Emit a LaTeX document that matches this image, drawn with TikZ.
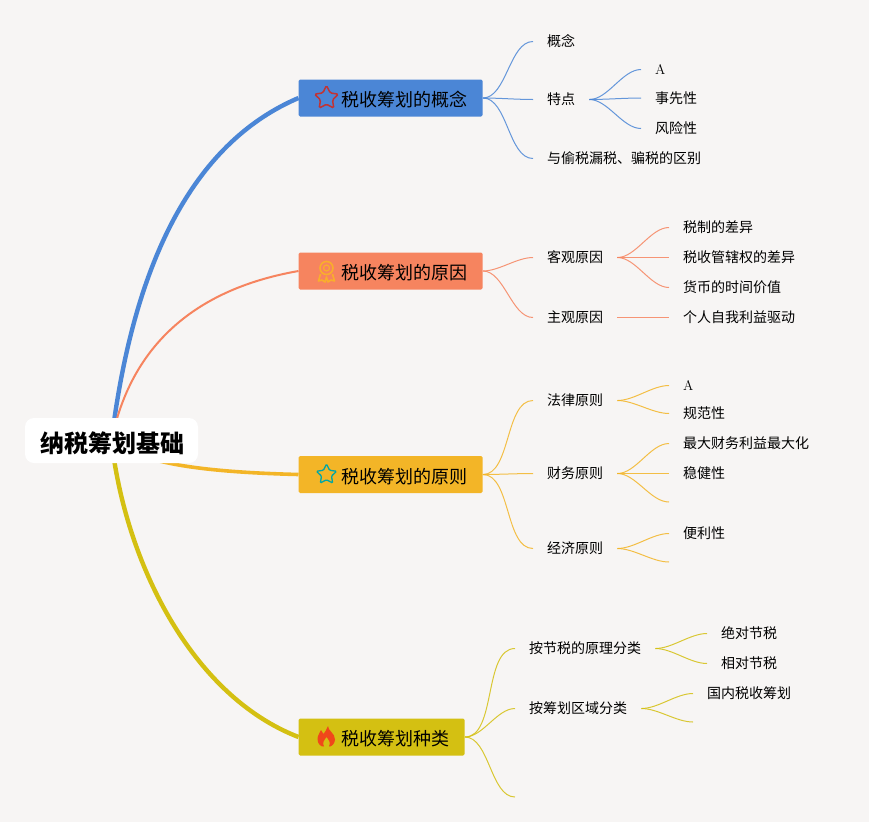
\documentclass[tikz,border=0pt]{standalone}
\usepackage{fontspec}
\newfontfamily\cjk{Noto Sans CJK SC}
\usetikzlibrary{shapes.geometric}
\definecolor{pagebg}{HTML}{F7F5F4}
\definecolor{cblue}{HTML}{4B86D6}
\definecolor{corange}{HTML}{F6845F}
\definecolor{cgold}{HTML}{F3B527}
\definecolor{cyellow}{HTML}{D4C012}
\definecolor{cmedal}{HTML}{F9AE2C}
\definecolor{cflame}{HTML}{F0481A}
\pgfdeclarelayer{bg}
\pgfdeclarelayer{lines}
\pgfsetlayers{bg,lines,main}
\tikzset{
    rootbox/.style={fill=white,rounded corners=9pt,minimum width=173pt,minimum height=45pt,inner sep=0pt,text height=24pt,text depth=0pt,font=\cjk\bfseries\fontsize{24}{24}\selectfont},
    topicbox/.style={rounded corners=1.5pt,minimum height=37pt,inner sep=0pt,anchor=west,text height=17pt,text depth=0pt,font=\cjk\fontsize{18}{18}\selectfont},
    leaf/.style={anchor=west,inner xsep=14pt,inner ysep=2pt,yshift=-1.5pt,font=\cjk\fontsize{14}{14}\selectfont},
    link/.style={out=0,in=180,looseness=.8,line width=1pt,opacity=.85},
}
\begin{document}
\begin{tikzpicture}[x=1pt,y=-1pt]
    \begin{pgfonlayer}{bg}
        \fill[pagebg] (0,0) rectangle (869,822);
    \end{pgfonlayer}
    \useasboundingbox (0,0) rectangle (869,822);
    \node[rootbox] (root) at (111.5,440.5) {\hspace*{2pt}纳税筹划基础};
    % topics
    \node[topicbox,fill=cblue,minimum width=184pt] (concept) at (298.5,98) {\hspace*{42.5pt}税收筹划的概念\hspace*{15.5pt}};
    \node[topicbox,fill=corange,minimum width=184pt] (reason) at (298.5,271) {\hspace*{42.5pt}税收筹划的原因\hspace*{15.5pt}};
    \node[topicbox,fill=cgold,minimum width=184pt] (rule) at (298.5,474.5) {\hspace*{42.5pt}税收筹划的原则\hspace*{15.5pt}};
    \node[topicbox,fill=cyellow,minimum width=166pt] (kind) at (298.5,737) {\hspace*{42.5pt}税收筹划种类\hspace*{15.5pt}};
    % icons
    \node[star,star points=5,star point ratio=2,draw=red!70!black!80,line width=1.5pt,rounded corners=1.5pt,minimum size=25pt,inner sep=0pt] (icostar) at (326.5,98) {};
    \node[circle,draw=cmedal,line width=1.6pt,minimum size=13pt,inner sep=0pt] (icomedal) at (326.5,268) {};
    \node[circle,draw=cmedal,line width=1.2pt,minimum size=6pt,inner sep=0pt] at (icomedal) {};
    \draw[cmedal,line width=1.6pt,line join=round] (320.5,274)--(318.5,281)--(322,280)--(325,282)--(326.5,277)--(328,282)--(331,280)--(334.5,281)--(332.5,274);
    \node[star,star points=5,star point ratio=2,draw=teal!70!cyan,line width=1.3pt,rounded corners=1pt,minimum size=21pt,inner sep=0pt] (icoteal) at (326.5,474.5) {};
    \fill[cflame] (328,726) .. controls (328,731) and (335,733) .. (335,739.5) .. controls (335,744) and (331,747) .. (329,746.5) .. controls (331,743) and (329,740) .. (326.5,737) .. controls (324,740) and (322,743) .. (324,746.5) .. controls (321,747) and (317.5,744) .. (317.5,739) .. controls (317.5,735) and (320,733) .. (321,730) .. controls (322,732) and (323,733) .. (323.5,734) .. controls (325,732) and (327,729) .. (328,726) -- cycle;
    % first level
    \node[leaf] (gn) at (533,40) {概念};
    \node[leaf] (td) at (533,98) {特点};
    \node[leaf] (qb) at (533,157) {与偷税漏税、骗税的区别};
    \node[leaf] (kg) at (533,256) {客观原因};
    \node[leaf] (zg) at (533,316) {主观原因};
    \node[leaf] (fl) at (533,399) {法律原则};
    \node[leaf] (cw) at (533,472) {财务原则};
    \node[leaf] (jj) at (533,547) {经济原则};
    \node[leaf] (jy) at (515,647) {按节税的原理分类};
    \node[leaf] (qy) at (515,707) {按筹划区域分类};
    \coordinate (kx) at (515,797);
    % second level
    \node[leaf] (ta) at (641,68) {{\rmfamily A}};
    \node[leaf] (tb) at (641,96.5) {事先性};
    \node[leaf] (tc) at (641,127) {风险性};
    \node[leaf] (ka) at (669,226) {税制的差异};
    \node[leaf] (kb) at (669,256) {税收管辖权的差异};
    \node[leaf] (kc) at (669,286) {货币的时间价值};
    \node[leaf] (za) at (669,316) {个人自我利益驱动};
    \node[leaf] (fa) at (669,384) {{\rmfamily A}};
    \node[leaf] (fb) at (669,412) {规范性};
    \node[leaf] (ca) at (669,442) {最大财务利益最大化};
    \node[leaf] (cb) at (669,472) {稳健性};
    \coordinate (cc) at (669,502);
    \node[leaf] (ja) at (669,532) {便利性};
    \coordinate (jb) at (669,562);
    \node[leaf] (ya) at (707,632) {绝对节税};
    \node[leaf] (yb) at (707,662) {相对节税};
    \node[leaf] (qa) at (693,692) {国内税收筹划};
    \coordinate (qb2) at (693,722);
    \begin{pgfonlayer}{lines}
        % main branches
        \draw[cblue,line width=4.4pt] (root.center) .. controls (135,250) and (200,140) .. (concept.west);
        \draw[corange,line width=2pt] (root.center) .. controls (130,350) and (190,290) .. (reason.west);
        \draw[cgold,line width=3.6pt] (root.center) .. controls (140,463) and (200,472) .. (rule.west);
        \draw[cyellow,line width=4.4pt] (root.center) .. controls (125,560) and (190,695) .. (kind.west);
        % leaves
        \foreach \x/\y in {concept.east/gn.west,concept.east/td.west,concept.east/qb.west,td.east/ta.west,td.east/tb.west,td.east/tc.west}
            \draw[cblue,link] (\x) to (\y);
        \foreach \x/\y in {reason.east/kg.west,reason.east/zg.west,kg.east/ka.west,kg.east/kb.west,kg.east/kc.west,zg.east/za.west}
            \draw[corange,link] (\x) to (\y);
        \foreach \x/\y in {rule.east/fl.west,rule.east/cw.west,rule.east/jj.west,fl.east/fa.west,fl.east/fb.west,cw.east/ca.west,cw.east/cb.west,cw.east/cc,jj.east/ja.west,jj.east/jb}
            \draw[cgold,link] (\x) to (\y);
        \foreach \x/\y in {kind.east/jy.west,kind.east/qy.west,kind.east/kx,jy.east/ya.west,jy.east/yb.west,qy.east/qa.west,qy.east/qb2}
            \draw[cyellow,link] (\x) to (\y);
    \end{pgfonlayer}
\end{tikzpicture}
\end{document}
